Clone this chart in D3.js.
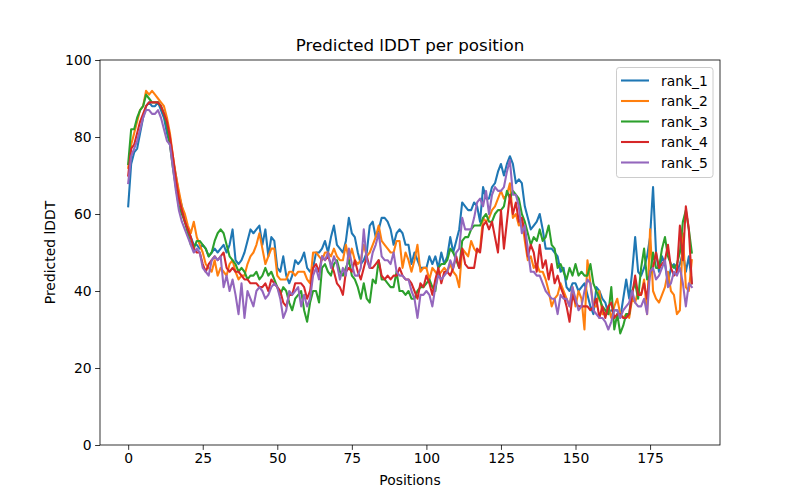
<!DOCTYPE html>
<html>
<head>
<meta charset="utf-8">
<script src="https://cdn.jsdelivr.net/npm/d3@7"></script>
<style>
  body { margin: 0; background: #fff; }
  text { font-family: "DejaVu Sans", sans-serif; fill: #000; }
</style>
</head>
<body>
<script>
// series names and colours (matplotlib default cycle)
var seriesNames = ["rank_1", "rank_2", "rank_3", "rank_4", "rank_5"];
var seriesColors = ["#1f77b4", "#ff7f0e", "#2ca02c", "#d62728", "#9467bd"];

// predicted lDDT per residue position
var rank1 = [
  62,73,76,77,81,85,88,89,88,88, 89,87,85,81,78,74,70,65,62,58,
  56,54,52,52,51,52,51,49,50,51, 50,51,52,50,52,56,48,47,48,50,
  53,56,55,56,57,52,56,49,54,53, 46,45,49,44,42,44,48,47,48,50,
  46,45,46,50,50,51,53,50,54,57, 52,51,50,53,59,55,54,50,47,48,
  50,57,58,54,56,59,59,58,56,52, 55,56,55,52,52,47,50,48,46,46,
  46,49,47,49,46,50,47,49,54,50, 53,56,63,62,61,61,63,62,58,67,
  64,64,67,68,71,73,70,73,75,73, 68,69,68,62,59,56,57,58,60,56,
  51,51,51,50,49,45,46,41,40,42, 42,40,41,42,39,36,34,41,40,38,
  37,34,35,35,35,33,38,43,38,45, 54,45,44,46,49,54,67,50,45,49,
  47,42,46,47,45,47,50,45,49,42
];
var rank2 = [
  72,78,81,84,87,88,92,91,92,91, 90,89,88,85,81,75,70,66,62,60,
  57,55,58,54,52,50,47,46,45,48, 44,46,45,44,47,48,45,43,44,44,
  47,49,50,52,55,51,47,49,51,51, 44,43,43,43,45,45,44,45,45,45,
  43,42,50,50,49,48,50,50,49,51, 49,48,48,52,48,51,48,47,48,52,
  49,50,52,54,57,53,52,51,50,50, 53,53,46,50,48,45,48,52,45,46,
  46,43,46,45,44,45,46,45,47,45, 44,41,51,50,49,53,51,50,51,59,
  58,59,61,62,64,66,64,65,68,59, 60,57,59,53,48,49,46,47,45,45,
  43,40,36,38,39,42,40,38,36,41, 36,40,38,30,48,42,36,36,40,34,
  34,36,33,36,38,34,33,34,33,38, 37,40,39,43,34,56,40,38,37,39,
  41,45,40,39,34,35,55,41,40,48
];
var rank3 = [
  73,82,82,85,87,88,91,90,89,89, 89,88,86,83,78,72,67,62,60,58,
  55,52,51,53,53,52,51,49,50,53, 55,56,55,52,49,48,47,45,46,45,
  43,44,44,45,43,44,46,44,45,43, 41,39,41,40,37,35,38,39,40,35,
  32,37,40,40,37,46,47,45,44,47, 48,45,44,46,48,44,43,41,38,42,
  38,37,43,42,48,43,43,42,41,41, 45,40,40,39,40,38,38,40,41,41,
  42,43,41,40,46,47,47,48,51,50, 48,46,53,54,54,56,57,57,57,59,
  60,58,58,60,61,61,62,66,64,66, 65,64,60,58,55,52,54,53,56,53,
  54,57,52,51,46,47,45,43,46,44, 47,44,45,44,44,47,42,40,38,36,
  35,34,41,30,34,29,31,34,34,40, 42,38,46,51,43,44,50,46,46,51,
  54,49,47,46,47,50,58,61,56,50
];
var rank4 = [
  70,77,78,81,84,86,88,89,89,89, 89,88,86,84,80,75,69,64,61,58,
  56,54,51,50,50,47,45,47,48,49, 48,49,50,46,45,46,45,45,44,43,
  43,42,42,42,41,41,42,40,43,42, 41,40,37,36,39,39,42,42,42,41,
  38,40,46,47,45,49,48,49,47,45, 42,41,39,45,46,45,48,45,43,46,
  49,46,46,47,48,44,43,44,43,44, 44,46,44,43,43,42,40,38,42,41,
  44,42,39,43,46,42,45,45,44,46, 49,46,51,47,46,46,46,51,50,57,
  58,56,58,54,50,61,51,58,65,60, 63,58,59,55,49,52,50,45,52,46,
  48,43,47,42,44,41,39,36,32,39, 37,36,36,36,36,35,36,38,33,36,
  33,36,37,33,34,34,33,33,34,39, 44,39,39,42,38,45,46,50,46,47,
  48,52,46,44,45,57,48,62,56,42
];
var rank5 = [
  68,75,77,79,82,85,87,87,86,86, 87,85,82,79,78,72,66,61,58,56,
  54,52,50,51,50,46,45,44,48,49, 48,49,41,44,40,43,39,34,42,33,
  40,38,36,40,41,40,38,39,41,42, 41,38,33,35,40,39,40,41,36,39,
  36,38,44,46,43,49,48,50,46,49, 47,43,46,44,51,47,44,44,46,56,
  48,46,50,52,55,49,48,48,47,50, 45,44,44,43,43,40,38,33,39,39,
  40,39,36,41,44,43,44,45,48,46, 50,51,59,56,56,56,59,63,64,62,
  66,60,65,67,66,66,67,71,74,65, 65,62,55,57,51,45,45,44,44,42,
  40,39,38,38,34,39,38,38,36,41, 38,35,36,40,43,42,35,34,33,33,
  32,30,32,35,35,33,35,36,37,40, 37,36,36,38,34,45,46,43,44,46,
  48,41,42,45,44,46,42,36,42,41
];
var allSeries = [rank1, rank2, rank3, rank4, rank5];

var xTicks = [0, 25, 50, 75, 100, 125, 150, 175];
var yTicks = [0, 20, 40, 60, 80, 100];

//svg size and axes box (matplotlib default subplot params)
var svgWidth = 800;
var svgHeight = 500;
var margin = { top: 60, right: 80, bottom: 55, left: 100 };
var width = svgWidth - margin.left - margin.right;
var height = svgHeight - margin.top - margin.bottom;

var svg = d3.select("body")
  .append("svg")
  .attr("width", svgWidth)
  .attr("height", svgHeight);

var chartGroup = svg.append("g")
  .attr("transform", `translate(${margin.left}, ${margin.top})`);

//x scale with 5% padding like matplotlib
var n = rank1.length;
var pad = (n - 1) * 0.05;
var xScale = d3.scaleLinear()
  .domain([-pad, n - 1 + pad])
  .range([0, width]);
var yScale = d3.scaleLinear()
  .domain([0, 100])
  .range([height, 0]);

var bottomAxis = d3.axisBottom(xScale).tickValues(xTicks).tickSize(4.9).tickPadding(3.5);
var leftAxis = d3.axisLeft(yScale).tickValues(yTicks).tickSize(4.9).tickPadding(3.5);

var xAxis = chartGroup.append("g")
  .attr("transform", `translate(0, ${height})`)
  .call(bottomAxis);
var yAxis = chartGroup.append("g")
  .call(leftAxis);

[xAxis, yAxis].forEach(function(ax) {
  ax.select(".domain").remove();
  ax.selectAll("line").attr("stroke", "#000").attr("stroke-width", 0.8);
  ax.selectAll("text").style("font-size", "13.9px").attr("fill", "#000");
});

//lines
var line = d3.line()
  .x((d, i) => xScale(i))
  .y(d => yScale(d));

chartGroup.append("clipPath").attr("id", "clip")
  .append("rect").attr("width", width).attr("height", height);

chartGroup.append("g")
  .attr("clip-path", "url(#clip)")
  .selectAll("path")
  .data(allSeries)
  .enter()
  .append("path")
  .attr("d", d => line(d))
  .attr("fill", "none")
  .attr("stroke", (d, i) => seriesColors[i])
  .attr("stroke-width", 2.08)
  .attr("stroke-linejoin", "round")
  .attr("stroke-linecap", "square");

//frame
chartGroup.append("rect")
  .attr("width", width)
  .attr("height", height)
  .attr("fill", "none")
  .attr("stroke", "#000")
  .attr("stroke-width", 0.8);

//title and axis labels
chartGroup.append("text")
  .attr("x", width / 2)
  .attr("y", -9)
  .attr("text-anchor", "middle")
  .style("font-size", "16.7px")
  .text("Predicted lDDT per position");

chartGroup.append("text")
  .attr("x", width / 2)
  .attr("y", height + 40)
  .attr("text-anchor", "middle")
  .style("font-size", "13.9px")
  .text("Positions");

chartGroup.append("text")
  .attr("transform", `translate(-45, ${height / 2}) rotate(-90)`)
  .attr("text-anchor", "middle")
  .style("font-size", "13.9px")
  .text("Predicted lDDT");

//legend
var legend = chartGroup.append("g")
  .attr("transform", `translate(${width - 104}, 7)`);
legend.append("rect")
  .attr("x", 0.5)
  .attr("y", 0.5)
  .attr("width", 96.5)
  .attr("height", 110)
  .attr("rx", 2.8)
  .attr("fill", "#fff")
  .attr("fill-opacity", 0.8)
  .attr("stroke", "#cccccc")
  .attr("stroke-width", 1);

var rows = legend.selectAll("g.row")
  .data(seriesNames)
  .enter()
  .append("g")
  .attr("class", "row")
  .attr("transform", (d, i) => `translate(0, ${13.5 + i * 20.5})`);
rows.append("line")
  .attr("x1", 5)
  .attr("x2", 33)
  .attr("stroke", (d, i) => seriesColors[i])
  .attr("stroke-width", 2.08);
rows.append("text")
  .attr("x", 45)
  .attr("y", 5)
  .style("font-size", "13.9px")
  .text(d => d);
</script>
</body>
</html>
